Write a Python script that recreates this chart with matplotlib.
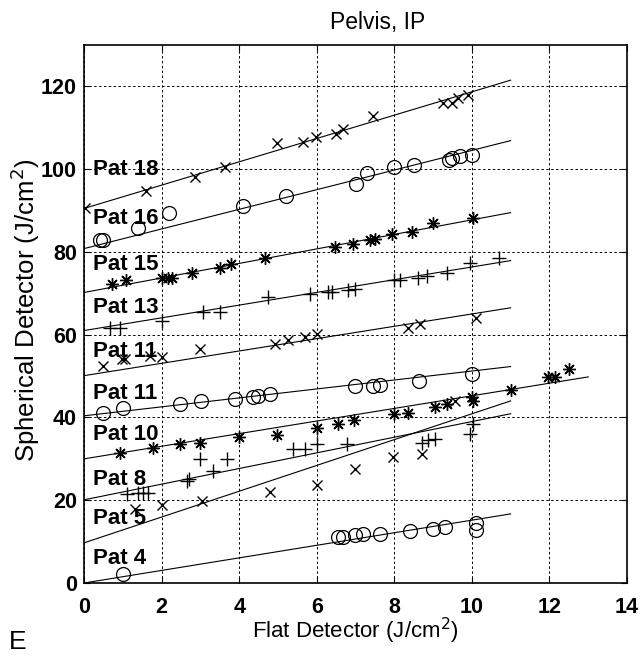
import matplotlib
matplotlib.use("Agg")
import matplotlib.pyplot as plt
import numpy as np

plt.rcParams['font.family'] = ['Liberation Sans', 'DejaVu Sans']

# ---- data ----
labels = ["Pat 18", "Pat 16", "Pat 15", "Pat 13", "Pat 11", "Pat 11", "Pat 10", "Pat 8", "Pat 5", "Pat 4"]
markers = ["x", "o", "*", "+", "x", "o", "*", "+", "x", "o"]
label_y = [100, 88, 77, 66.5, 56, 45.7, 36, 25, 15.5, 6]

fit_y0 = [90.5, 80.8, 70.2, 61.0, 50.1, 40.4, 30.0, 20.1, 9.7, 0.0]
fit_y1 = [121.5, 106.9, 89.5, 77.9, 66.5, 52.3, 49.8, 40.9, 44.0, 16.7]
fit_x1 = [11, 11, 11, 11, 11, 11, 13, 11, 11, 11]

p18_x = [0.03, 1.6, 2.87, 3.64, 4.98, 5.65, 5.99, 6.5, 6.68, 7.46, 9.26, 9.5, 9.65, 9.9]
p18_y = [90.5, 94.8, 98.0, 100.4, 106.2, 106.5, 107.7, 108.4, 109.6, 112.8, 115.9, 116.1, 117.1, 117.8]

p16_x = [0.41, 0.5, 1.4, 2.19, 4.1, 5.2, 7.0, 7.3, 7.98, 8.5, 9.4, 9.5, 9.7, 10.0]
p16_y = [83.0, 83.0, 85.9, 89.3, 91.0, 93.4, 96.3, 99.0, 100.4, 101.1, 102.3, 102.8, 103.1, 103.3]

p15_x = [0.72, 1.08, 2.0, 2.17, 2.27, 2.79, 3.5, 3.8, 4.67, 6.48, 6.94, 7.38, 7.5, 7.95, 8.46, 9.0, 10.04]
p15_y = [72.3, 73.1, 73.6, 73.6, 73.8, 75.0, 76.2, 77.2, 78.6, 81.1, 82.0, 83.0, 83.2, 84.4, 84.9, 86.9, 88.1]

p13_x = [0.67, 0.93, 2.0, 3.07, 3.5, 4.75, 5.83, 6.3, 6.4, 6.8, 6.99, 7.98, 8.15, 8.6, 8.85, 9.37, 9.96, 10.7]
p13_y = [61.5, 61.5, 63.4, 65.6, 65.6, 69.0, 69.9, 70.4, 70.4, 70.9, 71.1, 73.3, 73.3, 73.6, 74.3, 75.0, 77.4, 78.6]

p11a_x = [0.49, 0.98, 1.06, 1.7, 2.0, 3.0, 4.93, 5.26, 5.7, 6.0, 8.36, 8.67, 10.1]
p11a_y = [52.5, 54.2, 54.2, 54.9, 54.7, 56.6, 57.8, 58.6, 59.5, 60.2, 61.7, 62.7, 64.1]

p11b_x = [0.5, 1.0, 2.48, 3.02, 3.9, 4.36, 4.49, 4.8, 6.99, 7.46, 7.64, 8.65, 10.0]
p11b_y = [41.1, 42.3, 43.3, 44.0, 44.5, 45.0, 45.2, 45.7, 47.7, 47.7, 47.9, 48.9, 50.6]

p10_x = [0.93, 1.78, 2.48, 3.0, 4.0, 4.98, 6.01, 6.56, 6.95, 7.98, 8.36, 9.06, 9.37, 10.0, 10.04, 11.0, 11.97, 12.15, 12.5]
p10_y = [31.5, 32.7, 33.6, 33.9, 35.3, 35.8, 37.5, 38.5, 39.4, 40.9, 41.1, 42.6, 43.3, 45.0, 44.0, 46.7, 49.8, 49.8, 51.8]

p8_x = [1.1, 1.4, 1.52, 1.65, 2.66, 2.7, 3.0, 3.33, 3.69, 5.4, 5.7, 6.0, 6.79, 8.72, 8.88, 9.06, 9.96, 10.04]
p8_y = [21.5, 21.8, 21.8, 21.8, 24.7, 25.2, 30.0, 27.1, 30.0, 32.4, 32.4, 33.6, 33.6, 33.9, 34.6, 34.8, 36.1, 38.5]

p5_x = [1.32, 2.0, 3.04, 4.8, 6.01, 6.99, 7.97, 8.72, 9.57]
p5_y = [17.9, 18.9, 19.8, 22.0, 23.7, 27.6, 30.5, 31.2, 44.0]

p4_x = [1.0, 6.56, 6.68, 6.99, 7.2, 7.64, 8.4, 9.0, 9.32, 10.1, 10.1]
p4_y = [2.2, 11.1, 11.1, 11.6, 11.9, 11.9, 12.6, 13.1, 13.5, 14.5, 12.8]

series_x = [p18_x, p16_x, p15_x, p13_x, p11a_x, p11b_x, p10_x, p8_x, p5_x, p4_x]
series_y = [p18_y, p16_y, p15_y, p13_y, p11a_y, p11b_y, p10_y, p8_y, p5_y, p4_y]

x_ticks = [0, 2, 4, 6, 8, 10, 12, 14]
y_ticks = [0, 20, 40, 60, 80, 100, 120]

# ---- figure ----
W, H = 641, 656
fig = plt.figure(figsize=(W / 100, H / 100), dpi=100)
ax = fig.add_axes([84 / W, 1 - 583 / H, 543 / W, 538 / H])

marker_style = {
    "x": dict(marker="x", ms=7, mew=1.0),
    "o": dict(marker="o", ms=10, mew=0.9, mfc="none"),
    "*": dict(marker=(8, 2, 0), ms=9, mew=1.0),
    "+": dict(marker="+", ms=10, mew=1.0),
}

for i in range(len(labels)):
    ax.plot([0, fit_x1[i]], [fit_y0[i], fit_y1[i]], color="black", lw=0.8)
    ax.plot(series_x[i], series_y[i], ls="none", color="black", **marker_style[markers[i]])
    ax.text(0.22, label_y[i], labels[i], fontsize=16, fontweight="bold", va="center", ha="left",
            color="black")

ax.set_xlim(0, 14)
ax.set_ylim(0, 130)
ax.set_xticks(x_ticks)
ax.set_yticks(y_ticks)
ax.tick_params(direction="in", labelsize=15.5, length=4, width=0.8, top=True, right=True)
ax.tick_params(axis="x", pad=10)
ax.tick_params(axis="y", pad=5)
for lab in ax.get_xticklabels() + ax.get_yticklabels():
    lab.set_fontweight("bold")
ax.grid(True, color="black", ls=(0, (2.5, 2.5)), lw=0.7)
for s in ax.spines.values():
    s.set_linewidth(1.2)

fig.text(25 / W, 1 - 310 / H, "Spherical Detector (J/cm$^2$)", fontsize=18.5, rotation=90,
         ha="center", va="center")
fig.text(355 / W, 1 - 631 / H, "Flat Detector (J/cm$^2$)", fontsize=16, ha="center", va="center")
fig.text(378 / W, 1 - 22 / H, "Pelvis, IP", fontsize=16.5, ha="center", va="center")
fig.text(18 / W, 1 - 642 / H, "E", fontsize=19, ha="center", va="center")

fig.savefig("out.png", dpi=100)
